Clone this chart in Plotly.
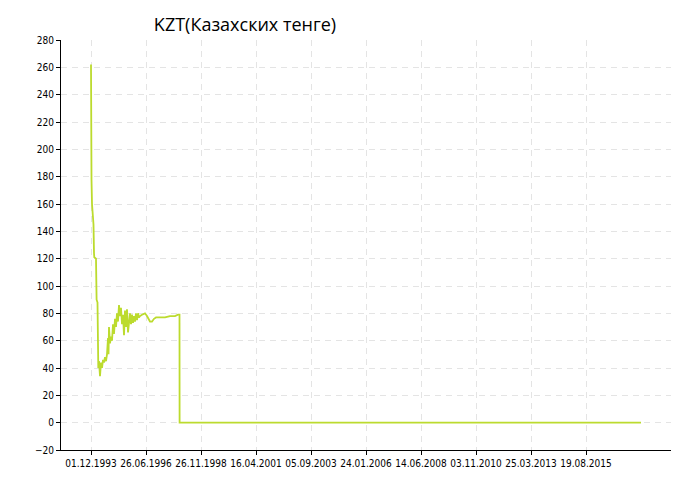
import plotly.graph_objects as go

# observation index (one unit ~ one step on the category-like axis; 55 steps per labelled tick)
obs_index = [0, 0, 0.3, 0.5, 1, 1.3, 2, 2.5, 3, 3.3, 5, 5.6, 6.5, 7.3, 8, 8.5, 9,
             10, 11, 12, 13, 14, 15, 16, 17, 17.5, 18, 19, 20, 21, 22, 23, 24,
             25, 26, 27, 28, 29, 30, 31, 32, 33, 34, 35, 36, 37, 38, 39, 40,
             41, 42, 43, 44, 45, 46, 47, 48, 49, 51, 54, 56, 58, 59, 61, 63,
             65, 69, 74, 79, 84, 87, 88.5, 88.6, 550]
kzt_rate = [262, 213, 200, 178, 160, 156, 155, 145, 124, 121, 120, 90, 88, 40, 45, 36, 34,
            44, 40, 46, 44, 48, 45, 50, 62, 50, 70, 58, 63, 60, 72, 65, 76,
            70, 80, 74, 86, 78, 84, 72, 79, 64, 82, 70, 83, 66, 74, 80, 72,
            79, 73, 78, 74, 80, 75, 80, 77, 78, 79, 80, 78, 75, 74, 74, 76,
            77, 77, 77, 78, 78, 79, 79, 0, 0]

tick_pos = [0, 55, 110, 165, 220, 275, 330, 385, 440, 495]
tick_labels = ["01.12.1993", "26.06.1996", "26.11.1998", "16.04.2001", "05.09.2003",
               "24.01.2006", "14.06.2008", "03.11.2010", "25.03.2013", "19.08.2015"]

fig = go.Figure()
fig.add_trace(go.Scatter(
    x=obs_index, y=kzt_rate, mode="lines",
    line=dict(color="#bcdb2e", width=1.8),
    showlegend=False, hoverinfo="y"))

tick_font = dict(family="DejaVu Sans Condensed", size=10, color="#000000")
grid_common = dict(showgrid=True, gridcolor="#e4e4e4", gridwidth=1, griddash="6px,5px",
                   zeroline=False, showline=True, linecolor="#000000", linewidth=1,
                   ticks="outside", ticklen=4, tickcolor="#000000", tickfont=tick_font)

fig.update_xaxes(range=[-30, 580], tickmode="array", tickvals=tick_pos,
                 ticktext=tick_labels, tickangle=0, **grid_common)
fig.update_yaxes(range=[-20, 280], tickmode="linear", tick0=-20, dtick=20,
                 **grid_common)

# the page body has an 8px margin, so the figure is 8px smaller and shifted
W, H = 692, 492
fig.update_layout(
    width=W, height=H,
    margin=dict(l=53, r=29, t=32, b=50),
    paper_bgcolor="#ffffff", plot_bgcolor="#ffffff",
    title=dict(text="KZT(Казахских тенге)", x=237/W, xref="container", xanchor="center",
               y=1-17/H, yref="container", yanchor="middle",
               font=dict(family="Open Sans", size=18, color="#000000")),
)

fig.write_html("out.html")
